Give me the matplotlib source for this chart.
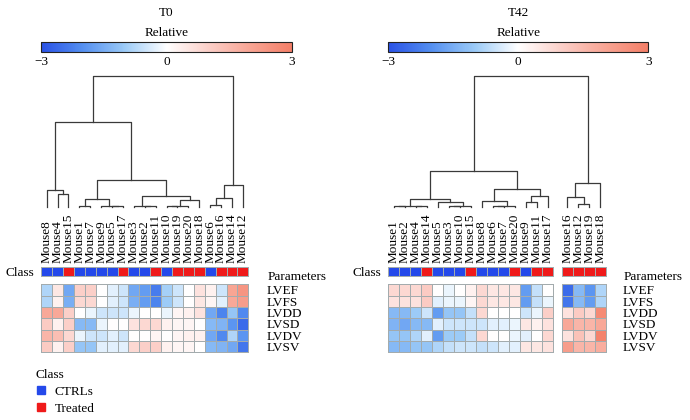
import matplotlib
matplotlib.use("Agg")
import matplotlib.pyplot as plt
import numpy as np
from matplotlib.colors import LinearSegmentedColormap, ListedColormap, Normalize
from matplotlib.cm import ScalarMappable
from matplotlib.lines import Line2D

plt.rcParams['font.family'] = ['Liberation Serif', 'DejaVu Serif']

W, H = 690, 420

params = ['LVEF', 'LVFS', 'LVDD', 'LVSD', 'LVDV', 'LVSV']
ctrl_mice = ['Mouse1', 'Mouse2', 'Mouse3', 'Mouse4', 'Mouse5',
             'Mouse6', 'Mouse7', 'Mouse8', 'Mouse9', 'Mouse10']
class_names = ['CTRLs', 'Treated']
class_colors = ['#2449ea', '#ef1a1a']

# ---- T0 ----
t0_order = ['Mouse8', 'Mouse4', 'Mouse15', 'Mouse1', 'Mouse7', 'Mouse9', 'Mouse5',
            'Mouse17', 'Mouse3', 'Mouse2', 'Mouse11', 'Mouse10', 'Mouse19', 'Mouse20',
            'Mouse18', 'Mouse6', 'Mouse16', 'Mouse14', 'Mouse12']
t0_values = np.array([
    [-0.8, 0.5, -1.6, 1.0, 1.0, 0.0, -0.3, -0.5, -1.6, -1.8, -2.3, -0.9, -0.5, 0.0, 0.6, 0.3, -0.5, 2.0, 2.4],
    [-0.8, 0.3, -1.5, 0.8, 0.8, 0.0, -0.3, -0.5, -1.5, -1.8, -2.2, -1.0, -0.5, 0.0, 0.5, 0.2, -0.3, 1.9, 2.2],
    [1.9, 1.9, 1.0, 0.0, -0.2, -0.5, -0.5, -0.5, -0.2, 0.0, 0.0, -0.2, 0.2, 0.3, 0.6, -1.6, -2.2, -1.1, -2.1],
    [1.1, 0.3, 1.0, -1.3, -1.3, -0.2, 0.0, 0.0, 0.6, 0.8, 0.8, 0.3, 0.2, 0.2, 0.0, -1.3, -1.4, -1.9, -2.6],
    [1.6, 1.4, 0.8, -0.2, -0.5, -0.5, -0.3, -0.5, 0.0, 0.0, 0.2, 0.0, 0.2, 0.3, 0.3, -1.6, -2.1, -0.8, -1.9],
    [1.1, 0.3, 1.0, -1.1, -1.1, -0.3, -0.3, -0.3, 0.8, 1.0, 1.0, 0.3, 0.2, 0.2, 0.0, -1.3, -1.4, -1.6, -2.4],
])
# merges: (left, right, height); ints refer to earlier merges
t0_merges = [
    ('Mouse4', 'Mouse15', 12.7),
    ('Mouse8', 0, 17.0),
    ('Mouse1', 'Mouse7', 0.6),
    ('Mouse5', 'Mouse17', 0.4),
    ('Mouse9', 3, 1.2),
    (2, 4, 7.7),
    ('Mouse2', 'Mouse11', 0.4),
    ('Mouse3', 6, 1.0),
    ('Mouse10', 'Mouse19', 0.4),
    (8, 'Mouse20', 0.9),
    (9, 'Mouse18', 6.3),
    (7, 10, 10.3),
    (5, 11, 27.0),
    (1, 12, 85.3),
    ('Mouse6', 'Mouse16', 1.5),
    (14, 'Mouse14', 8.7),
    (15, 'Mouse12', 22.0),
    (13, 16, 131.0),
]

# ---- T42 ----
t42_order = ['Mouse1', 'Mouse2', 'Mouse4', 'Mouse14', 'Mouse5', 'Mouse3', 'Mouse10',
             'Mouse15', 'Mouse8', 'Mouse6', 'Mouse7', 'Mouse20', 'Mouse9', 'Mouse11',
             'Mouse17', 'Mouse16', 'Mouse12', 'Mouse19', 'Mouse18']
t42_values = np.array([
    [0.8, 0.8, 0.8, 1.1, 0.0, -0.2, 0.0, 0.3, 0.8, 0.5, 0.5, 0.5, -1.8, -0.6, 0.0, -2.6, -1.3, -1.9, -0.8],
    [0.6, 0.6, 0.6, 1.1, -0.3, -0.2, -0.2, 0.2, 0.8, 0.5, 0.5, 0.5, -1.8, -0.6, -0.2, -2.4, -1.3, -1.8, -0.8],
    [-1.3, -1.3, -1.0, -0.5, -1.8, -1.1, -1.1, -0.6, 0.8, 0.0, 0.0, 0.0, -0.5, -0.2, 1.0, 0.6, 1.1, 0.8, 2.7],
    [-1.4, -1.6, -1.3, -1.3, -0.3, -0.5, -0.5, -0.5, -0.5, -0.3, -0.3, -0.2, 0.5, 0.3, 0.6, 1.9, 1.6, 1.6, 1.9],
    [-1.1, -1.1, -0.8, -0.3, -1.8, -1.0, -1.0, -0.6, 0.8, 0.0, 0.0, -0.2, -0.3, 0.0, 0.8, 0.6, 1.3, 0.8, 2.9],
    [-1.3, -1.3, -1.1, -1.1, -0.8, -0.6, -0.5, -0.5, -0.6, -0.5, -0.3, -0.3, 0.5, 0.5, 0.6, 2.2, 1.6, 1.6, 1.8],
])
t42_merges = [
    ('Mouse1', 'Mouse2', 0.3),
    ('Mouse4', 'Mouse14', 0.3),
    (0, 1, 1.0),
    ('Mouse3', 'Mouse10', 0.3),
    (3, 'Mouse15', 0.6),
    ('Mouse5', 4, 5.0),
    (2, 5, 7.3),
    ('Mouse6', 'Mouse7', 0.5),
    (7, 'Mouse20', 0.9),
    ('Mouse8', 8, 6.0),
    ('Mouse9', 'Mouse11', 4.3),
    (10, 'Mouse17', 10.7),
    (9, 11, 17.7),
    (6, 12, 35.7),
    ('Mouse12', 'Mouse19', 2.3),
    ('Mouse16', 14, 10.0),
    (15, 'Mouse18', 23.3),
    (13, 16, 130.7),
]
t42_split = 15  # leaves after this index sit in a separate block

cmap = LinearSegmentedColormap.from_list('rel', [
    (0.0, '#2a52e6'), (1 / 6, '#5590f0'), (2 / 6, '#9ccbf7'), (0.5, '#ffffff'),
    (4 / 6, '#fbcfc8'), (5 / 6, '#f8a594'), (1.0, '#f47f68')])
norm = Normalize(-3, 3)
class_cmap = ListedColormap(class_colors)
edge = '#a3abad'


def px_rect(x0, y0, x1, y1):
    return [x0 / W, 1 - y1 / H, (x1 - x0) / W, (y1 - y0) / H]


def draw_tree(ax, order, merges, xpos):
    pos = {name: (xpos[i], 0.0) for i, name in enumerate(order)}
    for k, (a, b, h) in enumerate(merges):
        xa, ha = pos[a]
        xb, hb = pos[b]
        ax.plot([xa, xa, xb, xb], [ha, h, h, hb], color='#3a3a3a', lw=0.9, clip_on=False)
        pos[k] = ((xa + xb) / 2, h)
    ax.set_ylim(0, merges[-1][2])
    ax.axis('off')


def panel(title, order, values, merges, x0, x1, cb_x1, split=None, gap=0.76,
          label_pad=13.5, par_dx=19):
    n = len(order)
    starts = np.arange(n, dtype=float)
    if split is not None:
        starts[split:] += gap
    xmax = starts[-1] + 1
    centers = starts + 0.5
    blocks = [(0, n)] if split is None else [(0, split), (split, n)]
    cls = np.array([[0 if m in ctrl_mice else 1 for m in order]])

    # dendrogram
    dax = fig.add_axes(px_rect(x0, 76, x1, 206.7))
    draw_tree(dax, order, merges, centers)
    dax.set_xlim(0, xmax)

    # class bar with mouse labels
    cax = fig.add_axes(px_rect(x0, 266.7, x1, 275.7))
    for s, e in blocks:
        mesh = cax.pcolormesh(starts[s] + np.arange(e - s + 1), [0, 1], cls[:, s:e],
                              cmap=class_cmap, vmin=0, vmax=1, edgecolors=edge, linewidth=0.5)
        mesh.set_clip_on(False)
    cax.set_xlim(0, xmax)
    cax.set_ylim(0, 1)
    cax.xaxis.tick_top()
    cax.set_xticks(centers)
    cax.set_xticklabels(order, rotation=90, fontsize=9.5)
    cax.set_yticks([0.5])
    cax.set_yticklabels(['Class'], fontsize=9.5)
    cax.tick_params(length=0, pad=3)
    cax.tick_params(axis='y', pad=5)
    for sp in cax.spines.values():
        sp.set_visible(False)

    # heatmap
    hax = fig.add_axes(px_rect(x0, 284.3, x1, 352.3))
    for s, e in blocks:
        mesh = hax.pcolormesh(starts[s] + np.arange(e - s + 1), np.arange(len(params) + 1),
                              values[:, s:e], cmap=cmap, norm=norm, edgecolors=edge, linewidth=0.6)
        mesh.set_clip_on(False)
    hax.set_xlim(0, xmax)
    hax.set_ylim(len(params), 0)
    hax.set_xticks([])
    hax.yaxis.tick_right()
    hax.set_yticks(np.arange(len(params)) + 0.5)
    hax.set_yticklabels(params, fontsize=9.5)
    hax.tick_params(length=0, pad=label_pad)
    for sp in hax.spines.values():
        sp.set_visible(False)
    fig.text((x1 + par_dx) / W, 1 - 277.5 / H, 'Parameters', fontsize=9.5,
             va='center', ha='left')

    # colour key
    kax = fig.add_axes(px_rect(x0, 41.7, cb_x1, 51.7))
    cb = fig.colorbar(ScalarMappable(norm=norm, cmap=cmap), cax=kax,
                      orientation='horizontal', ticks=[-3, 0, 3])
    cb.outline.set_linewidth(0.8)
    cb.outline.set_edgecolor('#222222')
    kax.tick_params(length=0, labelsize=9.5, pad=3)
    mid = (x0 + cb_x1) / 2 / W
    fig.text(mid, 1 - 13 / H, title, ha='center', va='center', fontsize=9.5)
    fig.text(mid, 1 - 33 / H, 'Relative', ha='center', va='center', fontsize=9.5)


fig = plt.figure(figsize=(W / 100, H / 100), dpi=100)

panel('T0', t0_order, t0_values, t0_merges, 41.2, 248.3, 292.0, label_pad=13.5, par_dx=19)
panel('T42', t42_order, t42_values, t42_merges, 388.3, 605.7, 648.3,
      split=t42_split, label_pad=12.5, par_dx=17.5)

handles = [Line2D([], [], marker='s', ls='', color=c, markersize=6, label=n)
           for c, n in zip(class_colors, class_names)]
fig.legend(handles=handles, title='Class', loc='upper left',
           bbox_to_anchor=(36 / W, 1 - 369 / H), frameon=False, alignment='left',
           fontsize=9.5, title_fontsize=9.5, handlelength=0.8, handletextpad=0.6,
           labelspacing=0.35, borderpad=0, borderaxespad=0)

fig.savefig('out.png', dpi=100)
